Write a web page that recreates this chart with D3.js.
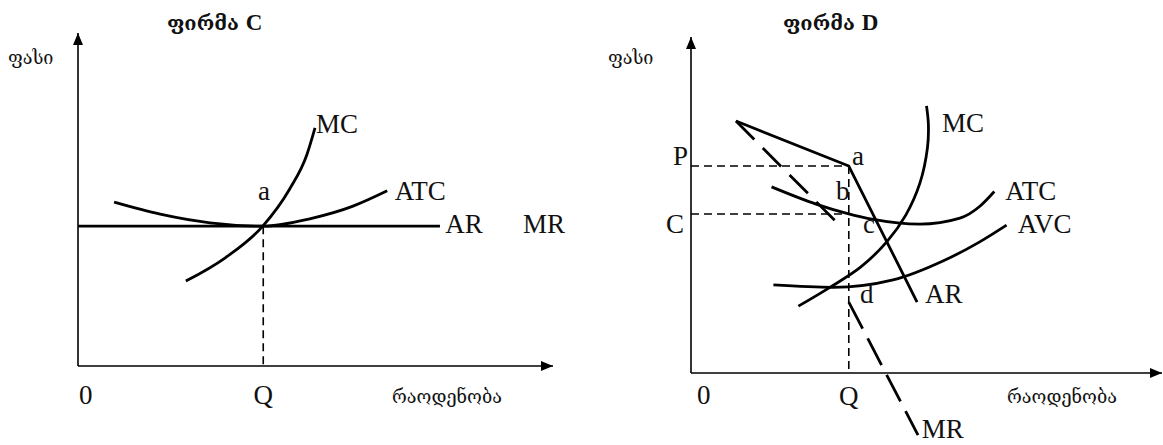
<!DOCTYPE html>
<html>
<head>
<meta charset="utf-8">
<script src="https://cdn.jsdelivr.net/npm/d3@7"></script>
<style>
  html, body { margin: 0; padding: 0; background: #fff; }
  svg { display: block; }
  .latin { font-family: "Liberation Serif", "Times New Roman", serif; fill: #111; }
  .geo { font-family: "DejaVu Serif", "DejaVu Sans", serif; fill: #111; }
</style>
</head>
<body>
<svg id="chart" width="1163" height="445"></svg>
<script>
// ---- Text ----
const titleWord = "ფირმა";
const firmNames = ["C", "D"];
const yAxisTitle = "ფასი";
const xAxisTitle = "რაოდენობა";

// ---- Firm C (perfect competition, long-run equilibrium) ----
// quantity / price pairs in chart units (0..100)
const cPrice = 42;           // AR = MR level
const cQ = 39;               // equilibrium quantity
const cMC  = [[22.7, 25.5], [31, 32.5], [38.9, 42.0], [44.5, 53], [48.2, 63.5], [49.9, 71.5]];
const cATC = [[7.6, 49.2], [17.3, 45.6], [27.8, 43.0], [38.9, 42.0], [48.8, 44.2], [57.9, 48.0], [65.1, 52.6]];
const cAREnd = 76.2;
const cLabels = [
  { t: "MC",  q: 50.1, p: 70.0 },
  { t: "ATC", q: 66.7, p: 49.8 },
  { t: "AR",  q: 77.3, p: 39.9 },
  { t: "MR",  q: 93.7, p: 39.9 },
  { t: "a",   q: 37.9, p: 49.8 }
];

// ---- Firm D (kinked demand) ----
const dQ = 33.5;
const dP = 61.6;
const dC = 47.3;
const dAR   = [[9.55, 75.0], [33.5, 61.6], [48.0, 21.1]];
const dMRUp = [[9.55, 75.0], [32.3, 42.9]];
const dMRLo = [[33.5, 21.1], [48.2, -18.5]];
const dMC  = [[22.8, 19.9], [29.5, 25.5], [36, 31.5], [41.6, 39.1], [45.6, 47.0], [48.6, 56.5], [50.2, 67.0], [50.4, 74.0], [50.0, 79.5]];
const dATC = [[17.1, 55.4], [26.7, 50.2], [33.1, 47.5], [38.7, 45.7], [48.6, 44.3], [57.1, 46.1], [61.4, 49.7], [64.4, 54.0]];
const dAVC = [[17.5, 26.2], [30.2, 25.5], [42.9, 27.7], [53.6, 33.4], [61.4, 39.1], [67.0, 44.0]];
const dLabels = [
  { t: "MC",  q: 53.3, p: 71.7 },
  { t: "ATC", q: 66.7, p: 51.5 },
  { t: "AVC", q: 69.4, p: 41.7 },
  { t: "AR",  q: 49.7, p: 20.8 },
  { t: "MR",  q: 49.0, p: -19.3 },
  { t: "a",   q: 34.2, p: 61.9 },
  { t: "b",   q: 30.8, p: 51.5 },
  { t: "c",   q: 36.5, p: 41.7 },
  { t: "d",   q: 35.9, p: 20.8 }
];

const svg = d3.select("#chart");
const defs = svg.append("defs");
defs.append("marker")
  .attr("id", "arrow")
  .attr("viewBox", "0 0 12 10")
  .attr("refX", 12).attr("refY", 5)
  .attr("markerWidth", 12).attr("markerHeight", 10)
  .attr("markerUnits", "userSpaceOnUse")
  .attr("orient", "auto")
  .append("path").attr("d", "M0,0 L12,5 L0,10 Z").attr("fill", "#000");

function drawAxes(g, x, y) {
  g.append("line")
    .attr("x1", x(0)).attr("y1", y(0)).attr("x2", x(0)).attr("y2", y(100))
    .attr("stroke", "#000").attr("stroke-width", 1.6).attr("marker-end", "url(#arrow)");
  g.append("line")
    .attr("x1", x(0)).attr("y1", y(0)).attr("x2", x(100)).attr("y2", y(0))
    .attr("stroke", "#000").attr("stroke-width", 1.6).attr("marker-end", "url(#arrow)");
}

function curve(g, pts, x, y, kind, dash) {
  const line = d3.line().x(d => x(d[0])).y(d => y(d[1])).curve(kind || d3.curveLinear);
  const p = g.append("path").attr("d", line(pts))
    .attr("fill", "none").attr("stroke", "#000").attr("stroke-width", 2.8)
    .attr("stroke-linejoin", "round");
  if (dash) p.attr("stroke-dasharray", dash);
  return p;
}

function guide(g, x1, y1, x2, y2) {
  g.append("line").attr("x1", x1).attr("y1", y1).attr("x2", x2).attr("y2", y2)
    .attr("stroke", "#000").attr("stroke-width", 1.6).attr("stroke-dasharray", "8,5");
}

function labels(g, list, x, y) {
  g.selectAll("text.lbl").data(list).enter().append("text")
    .attr("class", "latin lbl")
    .attr("x", d => x(d.q)).attr("y", d => y(d.p))
    .attr("font-size", 27)
    .text(d => d.t);
}

function title(g, xStart, name) {
  const t = g.append("text").attr("x", xStart).attr("y", 30);
  t.append("tspan").attr("class", "geo").attr("font-size", 20).attr("font-weight", "bold").text(titleWord + " ");
  t.append("tspan").attr("class", "latin").attr("font-size", 23).attr("font-weight", "bold").text(name);
}

// ---------- Firm C ----------
{
  const x = d3.scaleLinear().domain([0, 100]).range([78, 553]);
  const y = d3.scaleLinear().domain([0, 100]).range([366, 33]);
  const g = svg.append("g");
  drawAxes(g, x, y);
  guide(g, x(cQ), y(cPrice), x(cQ), y(0));
  g.append("line").attr("x1", x(0)).attr("y1", y(cPrice)).attr("x2", x(cAREnd)).attr("y2", y(cPrice))
    .attr("stroke", "#000").attr("stroke-width", 2.8);
  curve(g, cATC, x, y, d3.curveMonotoneX);
  curve(g, cMC, x, y, d3.curveMonotoneX);
  labels(g, cLabels, x, y);
  g.append("text").attr("class", "latin").attr("x", x(0) + 1).attr("y", 404).attr("font-size", 27).text("0");
  g.append("text").attr("class", "latin").attr("x", x(cQ)).attr("y", 404).attr("font-size", 27)
    .attr("text-anchor", "middle").text("Q");
  title(g, 167, firmNames[0]);
  g.append("text").attr("class", "geo").attr("x", 8).attr("y", 64).attr("font-size", 18).text(yAxisTitle);
  g.append("text").attr("class", "geo").attr("x", 392).attr("y", 403).attr("font-size", 18).text(xAxisTitle);
}

// ---------- Firm D ----------
{
  const x = d3.scaleLinear().domain([0, 100]).range([691, 1162]);
  const y = d3.scaleLinear().domain([0, 100]).range([373, 37]);
  const g = svg.append("g");
  drawAxes(g, x, y);
  guide(g, x(0), y(dP), x(dQ), y(dP));
  guide(g, x(0), y(dC), x(dQ), y(dC));
  guide(g, x(dQ), y(dP), x(dQ), y(0));
  curve(g, dAVC, x, y, d3.curveMonotoneX);
  curve(g, dATC, x, y, d3.curveMonotoneX);
  curve(g, dMC, x, y, d3.curveCatmullRom.alpha(0.5));
  curve(g, dAR, x, y);
  curve(g, dMRUp, x, y, null, "26,12");
  curve(g, dMRLo, x, y, null, "30,11");
  labels(g, dLabels, x, y);
  g.append("text").attr("class", "latin").attr("x", 688).attr("y", 165).attr("font-size", 27)
    .attr("text-anchor", "end").text("P");
  g.append("text").attr("class", "latin").attr("x", 684).attr("y", 233).attr("font-size", 27)
    .attr("text-anchor", "end").text("C");
  g.append("text").attr("class", "latin").attr("x", x(0) + 6).attr("y", 404).attr("font-size", 27).text("0");
  g.append("text").attr("class", "latin").attr("x", x(dQ)).attr("y", 405).attr("font-size", 27)
    .attr("text-anchor", "middle").text("Q");
  title(g, 783, firmNames[1]);
  g.append("text").attr("class", "geo").attr("x", 608).attr("y", 64).attr("font-size", 18).text(yAxisTitle);
  g.append("text").attr("class", "geo").attr("x", 1007).attr("y", 403).attr("font-size", 18).text(xAxisTitle);
}
</script>
</body>
</html>
